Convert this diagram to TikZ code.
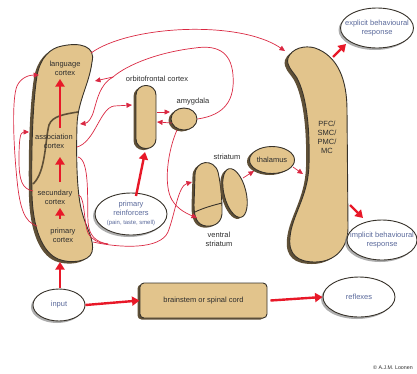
\documentclass[tikz,border=0pt]{standalone}
\usepackage{fontspec}
\setmainfont{Liberation Sans}
\usetikzlibrary{arrows.meta,shapes.geometric,shadows}
\definecolor{beigec}{RGB}{226,196,140}
\definecolor{outl}{RGB}{55,50,42}
\definecolor{shadc}{RGB}{95,80,55}
\definecolor{redc}{RGB}{232,24,40}
\definecolor{thinc}{RGB}{218,40,66}
\definecolor{slate}{RGB}{90,105,155}
\definecolor{txtc}{RGB}{45,45,45}
\newcommand\ctxshape{(62,46) .. controls (80,42) and (96,46) .. (92,62) .. controls (89,85) and (78,100) .. (77,125) .. controls (76,160) and (77,195) .. (82,212) .. controls (86,228) and (95,240) .. (92,252) .. controls (89,262) and (70,264) .. (58,259) .. controls (42,252) and (33,228) .. (32,195) .. controls (31,150) and (33,100) .. (37,76) .. controls (40,58) and (50,48) .. (62,46) -- cycle}
\newcommand\pfcshape{(288,58) .. controls (292,48) and (305,45) .. (315,48) .. controls (338,56) and (347,80) .. (347,110) -- (348,228) .. controls (348,248) and (335,262) .. (315,262) .. controls (298,262) and (288,255) .. (290,237) .. controls (292,215) and (308,197) .. (309,165) .. controls (310,125) and (306,95) .. (297,78) .. controls (292,70) and (286,66) .. (288,58) -- cycle}
\newcommand\strshape{(195,175) .. controls (195,160) and (214,158) .. (218,172) .. controls (221,185) and (222,200) .. (222,210) .. controls (223,222) and (215,227) .. (206,226) .. controls (197,225) and (194,217) .. (194,205) -- cycle}
\begin{document}
\begin{tikzpicture}[x=1pt,y=-1pt,
  beige/.style={fill=beigec,draw=outl,line width=0.9pt},
  blobshadow/.style={drop shadow={shadow xshift=-2.5pt,shadow yshift=-1.5pt,fill=shadc,opacity=1}},
  thickarr/.style={draw=redc,line width=2.4pt,-{Triangle[length=7.5pt,width=9pt]}},
  thinarr/.style={draw=thinc,line width=0.7pt,-{Triangle[length=5.5pt,width=5pt]}},
  thinline/.style={draw=thinc,line width=0.7pt},
  lbl/.style={font=\fontsize{7.5}{9}\selectfont,text=txtc,align=center,inner sep=0pt},
  elab/.style={font=\fontsize{7.5}{9}\selectfont,text=slate,align=center,inner sep=0pt},
  oval/.style={ellipse,draw=outl,fill=white,line width=0.9pt,inner sep=0pt,
    drop shadow={shadow xshift=-2pt,shadow yshift=-2pt,fill=black!45,opacity=0.7}},
  blob/.style={ellipse,beige,inner sep=0pt,blobshadow},
]
\useasboundingbox (0,0) rectangle (417,373);

% cortex column
\fill[shadc,shift={(-3,2)}] \ctxshape;
\draw[beige] \ctxshape;
\draw[draw=shadc,line width=1.6pt] (33,184) .. controls (46,172) and (45,140) .. (49,125) .. controls (52,116) and (65,114) .. (78,112);

% PFC
\fill[shadc,shift={(-3,2)}] \pfcshape;
\draw[beige] \pfcshape;

% striatum
\fill[shadc,shift={(-2.5,1.5)}] \strshape;
\draw[beige] \strshape;
\draw[draw=outl,line width=0.9pt] (195,212) .. controls (203,208) and (214,205) .. (222,203);
\node[blob,minimum width=22pt,minimum height=50pt,rotate=14] (str2) at (235,193) {};

% OFC, amygdala, thalamus
\node[beige,rounded corners=9.5pt,minimum width=20pt,minimum height=63pt,blobshadow] (ofc) at (146,117) {};
\node[blob,minimum width=26pt,minimum height=22pt] (amy) at (184,119) {};
\node[blob,minimum width=45pt,minimum height=27pt,font=\fontsize{7.5}{9}\selectfont,text=txtc] (thal) at (272,160) {thalamus};

% brainstem
\node[beige,rounded corners=4pt,minimum width=127pt,minimum height=35pt,blobshadow,
  font=\fontsize{7.5}{9}\selectfont,text=txtc] (brain) at (203.5,300.5) {brainstem or spinal cord};

% ovals
\node[oval,minimum width=73pt,minimum height=40pt] (expl) at (377,28) {};
\node[elab] at (expl) {explicit behavioural\\response};
\node[oval,minimum width=70pt,minimum height=40pt] (impl) at (382,240) {};
\node[elab] at (impl) {implicit behavioural\\response};
\node[oval,minimum width=72pt,minimum height=40pt] (refl) at (359,297) {};
\node[elab] at (refl) {reflexes};
\node[oval,minimum width=52pt,minimum height=32pt] (input) at (59,305) {};
\node[elab] at (input) {input};
\node[oval,minimum width=72pt,minimum height=42pt] (prein) at (131,214) {};
\node[elab] at (131,208) {primary\\reinforcers};
\node[elab,font=\fontsize{5.9}{7}\selectfont] at (131,223) {(pain, taste, smell)};

% labels
\node[lbl] (lang) at (65,68.5) {language\\cortex};
\node[lbl] (assoc) at (54,141.5) {association\\cortex};
\node[lbl] (sec) at (55,197) {secundary\\cortex};
\node[lbl] (prim) at (63,235.5) {primary\\cortex};
\node[lbl] (ofcl) at (157,79) {orbitofrontal cortex};
\node[lbl] (amyl) at (193,102) {amygdala};
\node[lbl] (strl) at (227,157) {striatum};
\node[lbl] (vstrl) at (219,239) {ventral\\striatum};
\node[lbl] (pfcl) at (327,137) {PFC/\\SMC/\\PMC/\\MC};
\node[font=\fontsize{5.3}{6}\selectfont,text=txtc,inner sep=0pt] (copy) at (393,368) {© A.J.M. Loonen};

% coordinates
\coordinate (ctxTop) at (91,53);
\coordinate (pfcTop) at (285,51);
\coordinate (fork) at (113,77);
\coordinate (langR) at (95,81);
\coordinate (assocR) at (80,124);
\coordinate (assocO) at (77,147);
\coordinate (ofcW) at (132,105);
\coordinate (ofcE1) at (157,112);
\coordinate (amyW1) at (170,112);
\coordinate (amyW2) at (172,123);
\coordinate (ofcE2) at (157,122);
\coordinate (amyS) at (177,130);
\coordinate (strd) at (192,182);
\coordinate (strv) at (197,218);
\coordinate (primR) at (93,242);
\coordinate (assocR2) at (78,157);
\coordinate (secR) at (79,195);
\coordinate (merge) at (108,244);
\coordinate (primL) at (37,226);
\coordinate (langL) at (39,75);
\coordinate (secL) at (33,191);
\coordinate (assocL) at (29,132);
\coordinate (strNE) at (243,178);
\coordinate (thalW) at (254,171);
\coordinate (thalE) at (293,167);
\coordinate (pfcL) at (303,174);

% thin connectors
\draw[thinarr] (ctxTop) .. controls (130,25) and (240,20) .. (pfcTop);
\draw[thinline] (amy.east) .. controls (225,115) and (235,100) .. (233,75) .. controls (231,50) and (215,45) .. (195,48) .. controls (160,52) and (128,64) .. (fork);
\draw[thinarr] (fork) -- (langR);
\draw[thinarr] (fork) .. controls (100,84) and (97,100) .. (94,110) .. controls (92,118) and (88,123) .. (assocR);
\draw[thinarr] (assocO) .. controls (95,142) and (100,108) .. (114,106) -- (ofcW);
\draw[thinarr] (ofcE1) -- (amyW1);
\draw[thinarr] (amyW2) -- (ofcE2);
\draw[thinarr] (amyS) .. controls (168,150) and (163,185) .. (172,200) .. controls (178,210) and (188,214) .. (strv);
\draw[thinarr] (primR) .. controls (120,248) and (160,250) .. (168,232) .. controls (175,214) and (178,186) .. (strd);
\draw[thinline] (assocR2) .. controls (90,160) and (87,200) .. (88,222) .. controls (89,235) and (95,242) .. (merge);
\draw[thinline] (secR) .. controls (85,198) and (84,225) .. (88,233) .. controls (92,240) and (98,243) .. (merge);
\draw[thinarr] (primL) .. controls (25,222) and (20,210) .. (17,180) .. controls (13,140) and (12,98) .. (17,86) .. controls (21,77) and (30,75) .. (langL);
\draw[thinarr] (secL) .. controls (22,189) and (19,180) .. (19,160) .. controls (19,140) and (20,132) .. (assocL);
\draw[thinarr] (strNE) -- (thalW);
\draw[thinarr] (thalE) -- (pfcL);

% thick arrows
\coordinate (t1s) at (60,128); \coordinate (t1e) at (60,79);
\coordinate (t2s) at (60,182); \coordinate (t2e) at (60,157);
\coordinate (t3s) at (60,219); \coordinate (t3e) at (60,208);
\coordinate (t4s) at (60,288); \coordinate (t4e) at (60,262);
\coordinate (pfcNE) at (333,57); \coordinate (explSW) at (346,44);
\coordinate (pfcSE) at (350,205); \coordinate (implNW) at (363,218);
\coordinate (preinN) at (136,196); \coordinate (ofcS) at (145,152);
\draw[thickarr] (t1s) -- (t1e);
\draw[thickarr] (t2s) -- (t2e);
\draw[thickarr] (t3s) -- (t3e);
\draw[thickarr] (t4s) -- (t4e);
\draw[thickarr] (input.east) -- (brain.west);
\draw[thickarr] (brain.east) ++(3,0) -- (refl.west);
\draw[thickarr] (pfcNE) -- (explSW);
\draw[thickarr] (pfcSE) -- (implNW);
\draw[thickarr] (preinN) -- (ofcS);
\end{tikzpicture}
\end{document}
